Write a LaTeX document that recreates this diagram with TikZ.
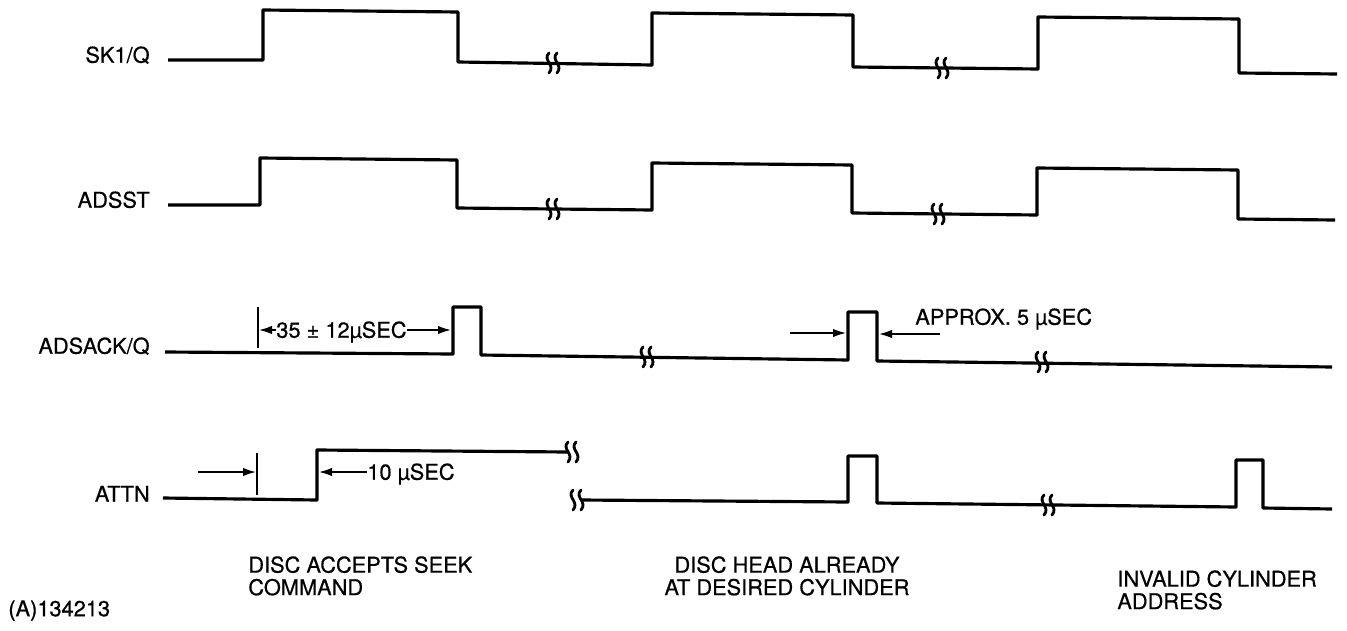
\documentclass[tikz,border=0pt]{standalone}
\usepackage{fontspec}
\setmainfont{TeX Gyre Heros}[FakeBold=0.6]
\usepackage{tikz}
\usetikzlibrary{arrows.meta}

\tikzset{
	wave/.style={draw=black, line width=1.8pt, line join=round},
	dimline/.style={draw=black, line width=0.9pt},
	dimarrow/.style={dimline, -{Latex[length=2.6mm,width=1.7mm]}},
	sig/.style={font=\fontsize{12.4}{13}\selectfont, inner sep=0pt, text height=8.8pt, text depth=0pt},
	note/.style={font=\fontsize{12.4}{12.8}\selectfont, inner sep=0pt, align=left},
	brk/.pic={
		\draw[line width=1.6pt, line cap=round] (-4,-10) .. controls (-11,-3) and (3,2) .. (-4,10);
		\draw[line width=1.6pt, line cap=round] (4,-10) .. controls (-3,-3) and (11,2) .. (4,10);
	}
}

\begin{document}
\begin{tikzpicture}[x=0.2mm, y=-0.2mm]
	\useasboundingbox (0,0) rectangle (1347,630);

	\node[sig, anchor=east] (sk) at (150,55) {SK1/Q};
	\node[sig, anchor=east] (adsst) at (150,200) {ADSST};
	\node[sig, anchor=east] (adsack) at (150,346) {ADSACK/Q};
	\node[sig, anchor=east] (attn) at (150,494) {ATTN};

	\draw[wave] (168,60) -- (263,60) -- (263,10) -- (458,12) -- (458,62) -- (652,65) -- (652,13) -- (853,15) -- (853,67) -- (1038,69) -- (1038,17) -- (1239,19) -- (1239,73) -- (1337,74);
	\pic at (553,63) {brk};
	\pic at (942,68) {brk};

	\draw[wave] (168,205) -- (260,205) -- (260,158) -- (457,160) -- (457,208) -- (652,210) -- (652,163) -- (852,165) -- (852,213) -- (1037,215) -- (1037,168) -- (1238,170) -- (1238,219) -- (1335,220);
	\pic at (553,209) {brk};
	\pic at (938,214) {brk};

	\draw[wave] (165,352) -- (453,354) -- (453,307) -- (481,307) -- (481,355) -- (848,360) -- (848,312) -- (877,312) -- (877,361) -- (1332,367);
	\pic at (647,357) {brk};
	\pic at (1042,362) {brk};

	\draw[wave] (163,498) -- (317,500) -- (317,450) -- (568,452);
	\pic at (572,452) {brk};
	\pic at (577,500) {brk};
	\draw[wave] (581,500) -- (848,502) -- (848,456) -- (877,456) -- (877,503) -- (1236,507) -- (1236,460) -- (1263,460) -- (1263,508) -- (1332,509);
	\pic at (1048,505) {brk};

	\draw[dimline] (258,307) -- (258,348);
	\node[sig, anchor=west] (durack) at (276,330) {35 ± 12µSEC};
	\draw[dimarrow] (durack.west) -- (259,330);
	\draw[dimarrow] (durack.east) -- (451,330);

	\draw[dimarrow] (790,333) -- (846,333);
	\draw[dimarrow] (940,334) -- (879,334);
	\node[sig, anchor=west] (approx) at (915,317) {APPROX. 5 µSEC};

	\draw[dimline] (257,453) -- (257,495);
	\draw[dimarrow] (198,472) -- (256,472);
	\node[sig, anchor=west] (tenus) at (367,472) {10 µSEC};
	\draw[dimarrow] (tenus.west) -- (319,472);

	\node[note, anchor=north west] (accept) at (248,556) {DISC ACCEPTS SEEK\\COMMAND};
	\node[note, anchor=north, align=center] (already) at (787,556) {DISC HEAD ALREADY\\AT DESIRED CYLINDER};
	\node[note, anchor=north west] (invalid) at (1117,570) {INVALID CYLINDER\\ADDRESS};
	\node[note, anchor=north west] (figno) at (8,600) {(A)134213};
\end{tikzpicture}
\end{document}
